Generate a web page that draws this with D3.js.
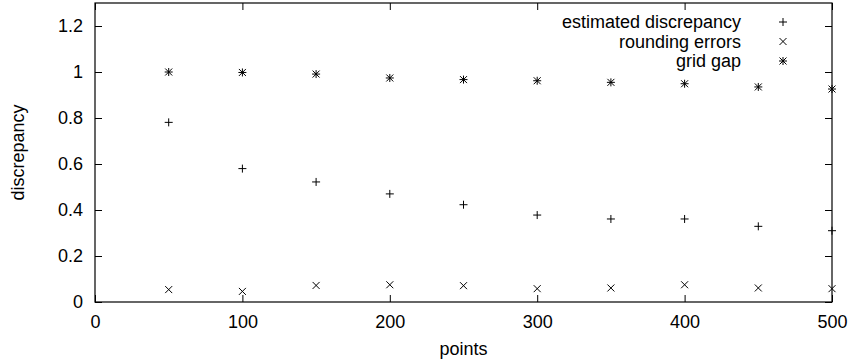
<!DOCTYPE html>
<html>
<head>
<meta charset="utf-8">
<script src="https://cdn.jsdelivr.net/npm/d3@7"></script>
<style>
  body { margin: 0; background: #fff; }
  text { font-family: "Liberation Sans", Arial, sans-serif; font-size: 18px; fill: #000; }
</style>
</head>
<body>
<div id="chart"></div>
<script>
// data
var points = [50, 100, 150, 200, 250, 300, 350, 400, 450, 500];
var estimated = [0.781, 0.580, 0.522, 0.470, 0.423, 0.378, 0.361, 0.361, 0.329, 0.310];
var rounding = [0.054, 0.046, 0.072, 0.075, 0.071, 0.058, 0.061, 0.075, 0.061, 0.058];
var gridGap = [1.0, 0.998, 0.991, 0.974, 0.967, 0.962, 0.955, 0.949, 0.935, 0.926];
var xTicks = [0, 100, 200, 300, 400, 500];
var yTicks = [0, 0.2, 0.4, 0.6, 0.8, 1, 1.2];
var seriesNames = ["estimated discrepancy", "rounding errors", "grid gap"];

var W = 849, H = 364;
var margin = {top: 3, right: 17, bottom: 62, left: 95},
    width = W - margin.left - margin.right,
    height = H - margin.top - margin.bottom;

var x = d3.scaleLinear().domain([0, 500]).range([0, width]);
var y = d3.scaleLinear().domain([0, 1.3]).range([height, 0]);

var svg = d3.select("#chart").append("svg")
    .attr("width", W).attr("height", H)
  .append("g")
    .attr("transform", "translate(" + margin.left + "," + margin.top + ")");

// inward ticks on all four sides, like gnuplot
var tk = 7;
svg.append("g").attr("transform", "translate(0," + height + ")")
  .call(d3.axisBottom(x).tickValues(xTicks).tickSize(-tk).tickPadding(tk + 6).tickFormat(d3.format("d")));
svg.append("g")
  .call(d3.axisTop(x).tickValues(xTicks).tickSize(-tk).tickFormat(""));
svg.append("g")
  .call(d3.axisLeft(y).tickValues(yTicks).tickSize(-tk).tickPadding(tk + 5).tickFormat(function(d) { return d3.format("~g")(d); }));
svg.append("g").attr("transform", "translate(" + width + ",0)")
  .call(d3.axisRight(y).tickValues(yTicks).tickSize(-tk).tickFormat(""));

svg.selectAll(".domain").remove();
svg.selectAll(".tick line").attr("stroke", "#000");
svg.selectAll(".tick text").style("font-size", "18px").attr("fill", "#000");

svg.append("rect")
  .attr("width", width).attr("height", height)
  .attr("fill", "none").attr("stroke", "#000").attr("stroke-width", 1.2);

// marker shapes
var r = 4;
function plus(g) {
  g.append("path").attr("d", "M" + -r + ",0H" + r + "M0," + -r + "V" + r);
}
function cross(g) {
  var c = 3.5;
  g.append("path").attr("d", "M" + -c + "," + -c + "L" + c + "," + c + "M" + -c + "," + c + "L" + c + "," + -c);
}
function star(g) { plus(g); cross(g); }

var shapes = [plus, cross, star];
var series = [estimated, rounding, gridGap];

series.forEach(function(vals, i) {
  var grp = svg.append("g").attr("stroke", "#000").attr("stroke-width", 1).attr("fill", "none");
  points.forEach(function(p, j) {
    var m = grp.append("g").attr("transform", "translate(" + x(p) + "," + y(vals[j]) + ")");
    shapes[i](m);
  });
});

// legend
var legend = svg.append("g");
seriesNames.forEach(function(name, i) {
  var ly = 19 + i * 19.5;
  legend.append("text")
    .attr("x", 646).attr("y", ly).attr("dy", "0.35em")
    .attr("text-anchor", "end").text(name);
  var m = legend.append("g").attr("stroke", "#000").attr("fill", "none")
    .attr("transform", "translate(688," + ly + ")");
  shapes[i](m);
});

// axis titles
svg.append("text")
  .attr("x", width / 2).attr("y", height + 53)
  .attr("text-anchor", "middle").text("points");
svg.append("text")
  .attr("transform", "translate(" + (-77) + "," + (height / 2) + ") rotate(-90)")
  .attr("text-anchor", "middle").attr("dy", "0.35em").text("discrepancy");
</script>
</body>
</html>
